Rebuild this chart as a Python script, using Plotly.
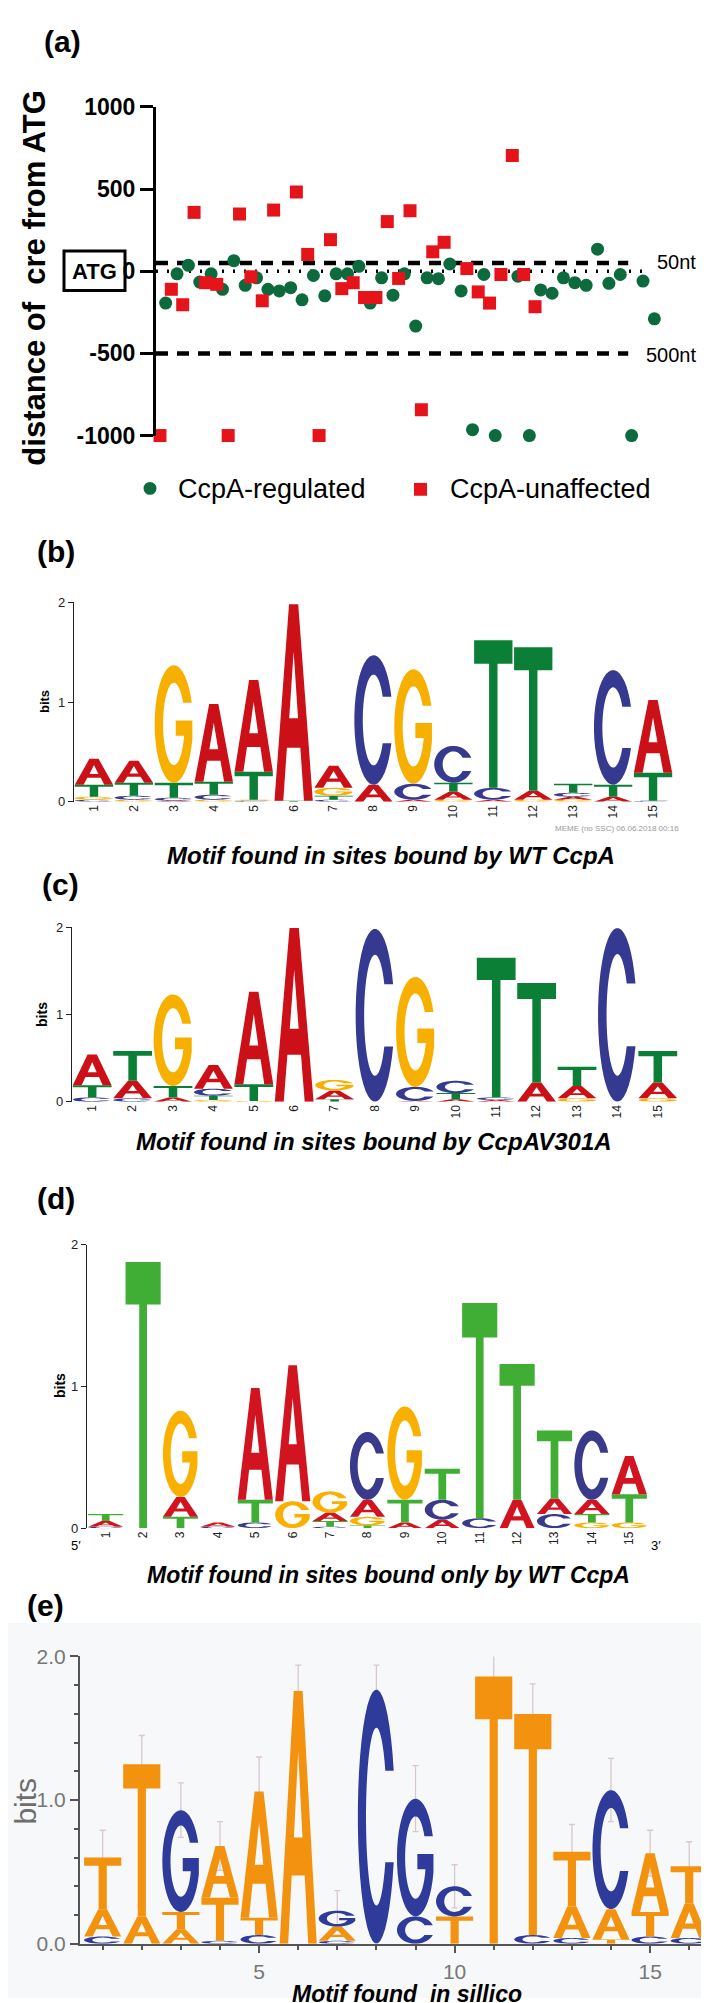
import math
import numpy as np
import plotly.graph_objects as go

W, H = 709, 2003
FONT = "Liberation Sans, Arial, Helvetica, sans-serif"

# ---------------- Panel (a) data: distance of cre from ATG ----------------
regulated_x = [0.5, 1.5, 2.5, 3.5, 4.5, 5.5, 6.5, 7.5, 8.5, 9.5, 10.5, 11.5, 12.5, 13.5,
               14.5, 15.5, 16.5, 17.5, 18.5, 19.5, 20.5, 21.5, 22.5, 23.5, 24.5, 25.5,
               26.5, 27.5, 28.5, 29.5, 31.5, 32.5, 33.5, 34.5, 35.5, 36.5, 37.5, 38.5,
               39.5, 40.5, 41.5, 42.5, 43.5]
regulated_y = [-194, -16, 36, -66, -16, -110, 64, -86, -40, -110, -120, -100, -174, -26,
               -150, -16, -16, 30, -194, -40, -146, -16, -334, -40, -46, 44,
               -120, -964, -20, -1000, -30, -1000, -114, -134, -40, -70, -86, 134,
               -74, -20, -1000, -60, -290]
unaffected_x = [0, 1, 2, 3, 4, 5, 6, 7, 8, 9, 10, 12, 13, 14, 15, 16, 17, 18, 19, 20,
                21, 22, 23, 24, 25, 27, 28, 29, 30, 31, 32, 33]
unaffected_y = [-1000, -110, -204, 358, -70, -80, -1000, 348, -34, -180, 372, 482, 102,
                -1000, 192, -106, -70, -160, -160, 302, -44, 368, -843, 118, 176, 16,
                -126, -194, -20, 704, -20, -216]
A_TICKS = [-1000, -500, 0, 500, 1000]
NEAR_NT = 50
FAR_NT = -500
SERIES_NAMES = ["CcpA-regulated", "CcpA-unaffected"]

# ---------------- Logo data (bits per letter, per position) ----------------
POS15 = list(range(1, 16))
POS16 = list(range(1, 17))

# (b) WT CcpA
B_A = [0.26, 0.22, 0.01, 0.78, 0.92, 1.97, 0.22, 0.17, 0.02, 0.08, 0.02, 0.09, 0.03, 0.05, 0.73]
B_C = [0.02, 0.04, 0.03, 0.05, 0.01, 0.00, 0.02, 1.30, 0.16, 0.37, 0.12, 0.00, 0.04, 1.15, 0.01]
B_G = [0.03, 0.02, 1.18, 0.02, 0.01, 0.00, 0.08, 0.00, 1.15, 0.02, 0.00, 0.02, 0.02, 0.00, 0.00]
B_T = [0.12, 0.13, 0.15, 0.13, 0.28, 0.01, 0.04, 0.00, 0.00, 0.09, 1.48, 1.44, 0.09, 0.12, 0.28]

# (c) CcpAV301A
C_A = [0.35, 0.20, 0.05, 0.27, 1.06, 1.99, 0.10, 0.00, 0.01, 0.03, 0.02, 0.22, 0.14, 0.00, 0.18]
C_C = [0.05, 0.04, 0.00, 0.08, 0.00, 0.00, 0.00, 1.98, 0.16, 0.14, 0.03, 0.00, 0.00, 1.99, 0.00]
C_G = [0.00, 0.00, 1.05, 0.02, 0.01, 0.00, 0.12, 0.00, 1.26, 0.00, 0.00, 0.00, 0.04, 0.00, 0.04]
C_T = [0.14, 0.34, 0.13, 0.05, 0.19, 0.00, 0.03, 0.00, 0.00, 0.07, 1.60, 1.14, 0.22, 0.00, 0.36]

# (d) only WT CcpA
D_A = [0.04, 0.00, 0.14, 0.03, 0.79, 0.96, 0.06, 0.12, 0.04, 0.06, 0.00, 0.20, 0.11, 0.10, 0.27]
D_C = [0.01, 0.00, 0.00, 0.01, 0.04, 0.00, 0.01, 0.48, 0.00, 0.14, 0.07, 0.00, 0.10, 0.49, 0.00]
D_G = [0.00, 0.00, 0.61, 0.00, 0.00, 0.19, 0.15, 0.06, 0.66, 0.00, 0.00, 0.00, 0.00, 0.04, 0.04]
D_T = [0.05, 1.88, 0.08, 0.00, 0.16, 0.00, 0.04, 0.02, 0.16, 0.22, 1.52, 0.96, 0.48, 0.06, 0.20]

# (e) in silico
E_A = [0.19, 0.19, 0.10, 0.36, 0.88, 1.76, 0.10, 0.00, 0.00, 0.00, 0.00, 0.00, 0.22, 0.21, 0.41, 0.24]
E_C = [0.05, 0.00, 0.00, 0.02, 0.06, 0.00, 0.02, 1.77, 0.19, 0.21, 0.00, 0.06, 0.04, 0.83, 0.05, 0.04]
E_G = [0.00, 0.00, 0.71, 0.00, 0.00, 0.00, 0.11, 0.00, 0.82, 0.00, 0.00, 0.00, 0.00, 0.00, 0.00, 0.00]
E_T = [0.36, 1.06, 0.12, 0.30, 0.12, 0.00, 0.00, 0.00, 0.00, 0.19, 1.86, 1.54, 0.38, 0.03, 0.17, 0.26]
E_ERR_TOP = [0.79, 1.45, 1.12, 0.85, 1.30, 1.94, 0.37, 1.94, 1.24, 0.55, 2.01, 1.81, 0.83, 1.29, 0.79, 0.71]

# ---------------- Styles ----------------
MEME_COL = {"A": "#cc1017", "C": "#35398f", "G": "#f7b000", "T": "#0b7f35"}
D_COL = {"A": "#d1141f", "C": "#393a8c", "G": "#f9b000", "T": "#40ad35"}
E_COL = {"A": "#f3920f", "C": "#2e3b9a", "G": "#2e3b9a", "T": "#f3920f"}
GREEN = "#0d6a3d"
RED = "#e5141b"


def px_x(p):
    return p / W


def px_y(p):
    return 1 - p / H


# ---------------- glyph outlines in unit box ----------------
def arc(rx, ry, a0, a1, n=40):
    ts = np.radians(np.linspace(a0, a1, n))
    return [(0.5 + rx * math.cos(t), 0.5 + ry * math.sin(t)) for t in ts]


RX_I, RY_I = 0.28, 0.35
Y_CUT = 0.68
AO = math.degrees(math.asin((Y_CUT - 0.5) / 0.5))
AI = math.degrees(math.asin((Y_CUT - 0.5) / RY_I))


def glyph(letter):
    if letter == "A":
        return [[(0, 0), (0.38, 1), (0.62, 1), (1, 0), (0.77, 0), (0.675, 0.27),
                 (0.325, 0.27), (0.23, 0)],
                [(0.385, 0.42), (0.615, 0.42), (0.5, 0.76)]]
    if letter == "T":
        return [[(0, 1), (1, 1), (1, 0.84), (0.61, 0.84), (0.61, 0), (0.39, 0),
                 (0.39, 0.84), (0, 0.84)]]
    if letter == "C":
        outer = arc(0.5, 0.5, AO, 360 - AO)
        inner = arc(RX_I, RY_I, 360 - AI, AI)
        return [outer + inner]
    if letter == "G":
        outer = arc(0.5, 0.5, AO, 345)
        xr = outer[-1][0]
        ab = math.degrees(math.asin((0.40 - 0.5) / RY_I))
        pts = outer + [(xr, 0.53), (0.55, 0.53), (0.55, 0.40)]
        pts += arc(RX_I, RY_I, 360 + ab, AI)
        return [pts]
    return []


def glyph_path(letter, x0, x1, y0, y1):
    parts = []
    for poly in glyph(letter):
        pts = [(x0 + u * (x1 - x0), y0 + v * (y1 - y0)) for u, v in poly]
        s = "M" + " L".join(f"{x:.4f},{y:.5f}" for x, y in pts) + " Z"
        parts.append(s)
    return " ".join(parts)


shapes = []
annotations = []


def add_logo(fig, axn, positions, heights, colors, width):
    totals = []
    for i, p in enumerate(positions):
        stack = [(heights[L][i], k, L) for k, L in enumerate("ACGT") if heights[L][i] > 0.004]
        stack.sort(key=lambda t: (t[0], t[1]))
        base = 0.0
        for h, _, L in stack:
            shapes.append(dict(type="path",
                               path=glyph_path(L, p - width / 2, p + width / 2, base, base + h),
                               xref=f"x{axn}", yref=f"y{axn}", fillcolor=colors[L],
                               line=dict(width=0), fillrule="evenodd", layer="above"))
            base += h
        totals.append(base)
    fig.add_trace(go.Scatter(x=positions, y=totals, mode="markers",
                             marker=dict(size=1, opacity=0), showlegend=False,
                             hoverinfo="x+y", xaxis=f"x{axn}", yaxis=f"y{axn}"))
    return totals


def ann(text, x, y, size, bold=False, italic=False, xanchor="center", yanchor="middle",
        color="black", angle=0):
    t = text
    if bold:
        t = f"<b>{t}</b>"
    if italic:
        t = f"<i>{t}</i>"
    annotations.append(dict(text=t, x=px_x(x), y=px_y(y), xref="paper", yref="paper",
                            showarrow=False, font=dict(size=size, color=color, family=FONT),
                            xanchor=xanchor, yanchor=yanchor, textangle=angle))


fig = go.Figure()

# ---------------- Panel (a) ----------------
fig.add_trace(go.Scatter(x=regulated_x, y=regulated_y, mode="markers", name=SERIES_NAMES[0],
                         marker=dict(symbol="circle", size=13, color=GREEN),
                         cliponaxis=False, showlegend=False, xaxis="x", yaxis="y"))
fig.add_trace(go.Scatter(x=unaffected_x, y=unaffected_y, mode="markers", name=SERIES_NAMES[1],
                         marker=dict(symbol="square", size=13, color=RED),
                         cliponaxis=False, showlegend=False, xaxis="x", yaxis="y"))
A_XMIN, A_XMAX = -0.35, 44.7
for yv, xend, dash, w in [(NEAR_NT, 41.2, "12px,9px", 4.5), (FAR_NT, 41.2, "12px,9px", 4.5),
                          (0, 43.0, "2px,9px", 3.5)]:
    shapes.append(dict(type="line", xref="x", yref="y", x0=A_XMIN, x1=xend, y0=yv, y1=yv,
                       line=dict(color="black", width=w, dash=dash), layer="below"))

# legend (drawn as key symbols + labels)
shapes.append(dict(type="circle", xref="paper", yref="paper", x0=px_x(135.5), x1=px_x(148.5),
                   y0=px_y(480), y1=px_y(467), fillcolor=GREEN, line=dict(width=0)))
shapes.append(dict(type="rect", xref="paper", yref="paper", x0=px_x(406), x1=px_x(419),
                   y0=px_y(481), y1=px_y(468), fillcolor=RED, line=dict(width=0)))
ann(SERIES_NAMES[0], 168, 474, 27, xanchor="left")
ann(SERIES_NAMES[1], 440, 474, 27, xanchor="left")

# ATG box
shapes.append(dict(type="rect", xref="paper", yref="paper", x0=px_x(56), x1=px_x(117),
                   y0=px_y(273), y1=px_y(233), line=dict(color="black", width=3)))
ann("ATG", 86.5, 254, 22, bold=True)
ann("distance of &nbsp;cre from ATG", 27, 260, 31, bold=True, angle=-90)
ann("50nt", 690, 244, 20, xanchor="right")
ann("500nt", 690, 338, 20, xanchor="right")

# ---------------- Logos ----------------
add_logo(fig, 2, POS15, {"A": B_A, "C": B_C, "G": B_G, "T": B_T}, MEME_COL, 0.96)
add_logo(fig, 3, POS15, {"A": C_A, "C": C_C, "G": C_G, "T": C_T}, MEME_COL, 0.96)
add_logo(fig, 4, POS15, {"A": D_A, "C": D_C, "G": D_G, "T": D_T}, D_COL, 0.94)
e_tot = add_logo(fig, 5, POS16, {"A": E_A, "C": E_C, "G": E_G, "T": E_T}, E_COL, 0.95)

fig.add_trace(go.Scatter(x=POS16, y=e_tot, mode="markers", marker=dict(size=1, opacity=0),
                         error_y=dict(type="data", symmetric=True,
                                      array=[t - s for t, s in zip(E_ERR_TOP, e_tot)],
                                      color="#d9c7cb", thickness=1.3, width=3),
                         showlegend=False, cliponaxis=False, hoverinfo="skip",
                         xaxis="x5", yaxis="y5"))

# panel (e) background
shapes.append(dict(type="rect", xref="paper", yref="paper", x0=0, x1=1, y0=0, y1=px_y(1623),
                   fillcolor="#f7f8f9", line=dict(width=0), layer="below"))

# labels
ann("(a)", 34, 21, 30, bold=True, xanchor="left")
ann("(b)", 27, 537, 30, bold=True, xanchor="left")
ann("(c)", 32, 875, 30, bold=True, xanchor="left")
ann("(d)", 27, 1193, 30, bold=True, xanchor="left")
ann("(e)", 17, 1605, 30, bold=True, xanchor="left")

ann("bits", 36, 690, 13, bold=True, angle=-90)
ann("bits", 34, 1007, 14, bold=True, angle=-90)
ann("bits", 52, 1383, 14, bold=True, angle=-90)
ann("bits", 18, 1804, 30, color="#6e6e6e", angle=-90)
ann("MEME (no SSC) 06.06.2018 00:16", 545, 818, 8, color="#999999", xanchor="left")
ann("5′", 68, 1545, 13)
ann("3′", 648, 1545, 13)

ann("Motif found in sites bound by WT CcpA", 383, 845, 24, bold=True, italic=True)
ann("Motif found in sites bound by CcpAV301A", 366, 1135, 24, bold=True, italic=True)
ann("Motif found in sites bound only by WT CcpA", 380, 1574, 23, bold=True, italic=True)
ann("Motif found &nbsp;in sillico", 399, 1999, 23, bold=True, italic=True)

# ---------------- Axes ----------------
meme_y = dict(range=[0, 2], tickvals=[0, 1, 2], showline=True, linecolor="#222222",
              linewidth=1.3, ticks="outside", ticklen=5, tickwidth=1.3, tickcolor="#222222",
              tickfont=dict(size=13, family=FONT, color="#222222"), showgrid=False,
              zeroline=False, fixedrange=True)
meme_x = dict(range=[0.5, 15.5], tickvals=POS15, ticktext=[str(p) for p in POS15],
              tickangle=-90, showline=False, ticks="", showgrid=False, zeroline=False,
              tickfont=dict(size=12, family=FONT, color="#222222"), fixedrange=True)

fig.update_layout(
    width=W, height=H, margin=dict(l=0, r=0, t=0, b=0),
    paper_bgcolor="white", plot_bgcolor="rgba(0,0,0,0)",
    font=dict(family=FONT, color="black"),
    showlegend=False,
    xaxis=dict(domain=[px_x(148), px_x(660)], range=[A_XMIN, A_XMAX], visible=False,
               anchor="y"),
    yaxis=dict(domain=[px_y(420), px_y(87)], range=[-1000, 1000], tickvals=A_TICKS,
               ticktext=[str(v) for v in A_TICKS], showline=True, linecolor="black",
               linewidth=3, ticks="outside", ticklen=13, tickwidth=3, tickcolor="black",
               tickfont=dict(size=23, family=FONT, color="black", weight="bold"),
               showgrid=False, zeroline=False, anchor="x"),
    xaxis2=dict(meme_x, domain=[px_x(66), px_x(665)], anchor="y2"),
    yaxis2=dict(meme_y, domain=[px_y(791), px_y(589)], anchor="x2"),
    xaxis3=dict(meme_x, domain=[px_x(64), px_x(670)], anchor="y3"),
    yaxis3=dict(meme_y, domain=[px_y(1095), px_y(918)], anchor="x3"),
    xaxis4=dict(meme_x, domain=[px_x(79), px_x(640)], anchor="y4", ticklabelstandoff=0),
    yaxis4=dict(meme_y, domain=[px_y(1527), px_y(1240)], anchor="x4"),
    xaxis5=dict(domain=[px_x(72), px_x(700)], range=[0.42, 16.48], anchor="y5",
                tick0=0, dtick=5, showline=True, linecolor="#555555", linewidth=2,
                ticks="outside", ticklen=7, tickwidth=1.5, tickcolor="#555555",
                minor=dict(dtick=1, ticks="outside", ticklen=4, tickcolor="#555555"),
                ticklabelstandoff=1,
                tickfont=dict(size=21, family=FONT, color="#777777"), showgrid=False,
                zeroline=False),
    yaxis5=dict(domain=[px_y(1948), px_y(1657)], range=[0, 2], anchor="x5",
                tick0=0, dtick=1, tickformat=".1f", showline=True, linecolor="#555555",
                linewidth=2, ticks="outside", ticklen=8, tickwidth=1.5, tickcolor="#555555",
                minor=dict(dtick=0.2, ticks="outside", ticklen=4, tickcolor="#555555"),
                tickfont=dict(size=21, family=FONT, color="#777777"), showgrid=False,
                zeroline=False),
    shapes=shapes,
    annotations=annotations,
)

fig.write_html("out.html")
